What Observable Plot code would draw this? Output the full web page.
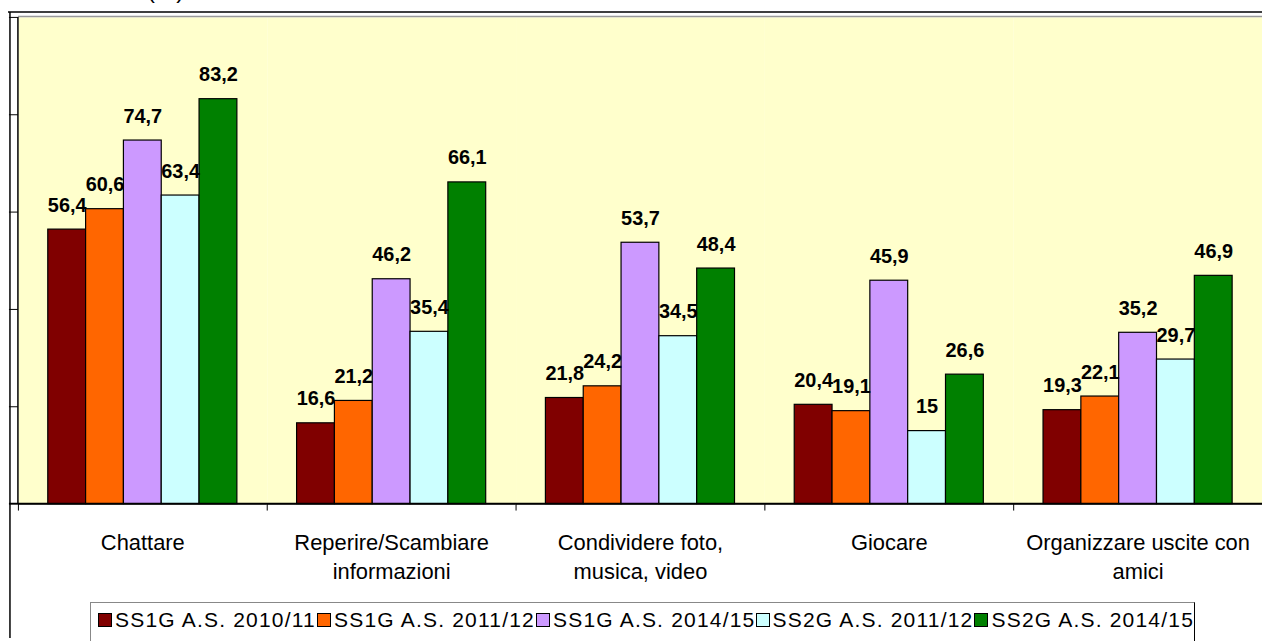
<!DOCTYPE html>
<html>
<head>
<meta charset="utf-8">
<script src="https://cdn.jsdelivr.net/npm/d3@7"></script>
<script src="https://cdn.jsdelivr.net/npm/@observablehq/plot@0.6"></script>
<style>
  html, body { margin: 0; padding: 0; background: #fff; overflow: hidden; width: 1262px; height: 641px; }
  body { position: relative; font-family: "Liberation Sans", Arial, sans-serif; }
  #chart { position: absolute; left: 0; top: 0; }
  #title { position: absolute; left: 147px; top: -22px; font-size: 24px; line-height: 24px; color: #000; white-space: nowrap; }
  #legend { position: absolute; left: 90px; top: 602px; width: 1105px; height: 60px; box-sizing: border-box;
            border: 1px solid #888; border-right-color: #000; display: flex; align-items: flex-start; padding-left: 7px; }
  .item { width: 220px; height: 34px; display: flex; align-items: center; font-size: 21px; letter-spacing: 1.2px; color: #000; white-space: nowrap; }
  .swatch { width: 12px; height: 12px; border: 1px solid #000; margin-right: 3px; flex: none; }
</style>
</head>
<body>
<div id="title">(%)</div>
<div id="chart"></div>
<div id="legend"></div>
<script>
const categories = [
  "Chattare",
  "Reperire/Scambiare\ninformazioni",
  "Condividere foto,\nmusica, video",
  "Giocare",
  "Organizzare uscite con\namici"
];
const series = [
  "SS1G A.S. 2010/11",
  "SS1G A.S. 2011/12",
  "SS1G A.S. 2014/15",
  "SS2G A.S. 2011/12",
  "SS2G A.S. 2014/15"
];
const ss1g_2010_11 = [56.4, 16.6, 21.8, 20.4, 19.3];
const ss1g_2011_12 = [60.6, 21.2, 24.2, 19.1, 22.1];
const ss1g_2014_15 = [74.7, 46.2, 53.7, 45.9, 35.2];
const ss2g_2011_12 = [63.4, 35.4, 34.5, 15.0, 29.7];
const ss2g_2014_15 = [83.2, 66.1, 48.4, 26.6, 46.9];
const colors = ["#800000", "#FF6600", "#CC99FF", "#CCFFFF", "#008000"];
const yTicks = [0, 20, 40, 60, 80, 100];

const seriesValues = [ss1g_2010_11, ss1g_2011_12, ss1g_2014_15, ss2g_2011_12, ss2g_2014_15];
const rows = [];
categories.forEach((c, i) => {
  series.forEach((s, j) => rows.push({category: c, series: s, value: seriesValues[j][i]}));
});
const fmt = v => (Number.isInteger(v) ? String(v) : v.toFixed(1).replace(".", ","));

const plot = Plot.plot({
  width: 1268,
  height: 600,
  marginLeft: 17,
  marginRight: 0,
  marginTop: 17,
  marginBottom: 94,
  style: {fontFamily: '"Liberation Sans", Arial, sans-serif', background: "transparent", overflow: "visible"},
  fx: {domain: categories, padding: 0, axis: null, label: null},
  x: {domain: series, paddingInner: 0, paddingOuter: 0.738, axis: null, label: null},
  y: {domain: [0, 100], axis: null, label: null},
  color: {domain: series, range: colors},
  marks: [
    Plot.frame({fill: "#FFFFCC", stroke: null}),
    Plot.barY(rows, {fx: "category", x: "series", y: "value", fill: "series", stroke: "#000", strokeWidth: 1.2}),
    Plot.text(rows, {fx: "category", x: "series", y: "value", text: d => fmt(d.value), dy: -18,
      lineAnchor: "bottom", fontWeight: "bold", fontSize: 20, fill: "#000"}),
    Plot.text(categories, {fx: d => d, text: d => d, frameAnchor: "bottom", lineAnchor: "top",
      dy: 26, fontSize: 22, lineHeight: 1.32, fill: "#000"}),
    Plot.axisY({ticks: yTicks, tickSize: 9, tickFormat: () => "", stroke: "#000", anchor: "left"}),
    Plot.ruleY([0], {stroke: "#000", strokeWidth: 1.5})
  ]
});
document.getElementById("chart").appendChild(plot);

// decorations built from the plot's own scales
const yS = plot.scale("y");
const fxS = plot.scale("fx");
const bandStart = c => (fxS.apply ? fxS.apply(c) : null);
const bs = d3.scaleBand().domain(categories).range([17, 1268]).padding(0);
const pos = c => { const v = bandStart(c); return (v == null || isNaN(v)) ? bs(c) : v; };
const y0 = yS.apply(0), y1 = yS.apply(100);
const left = pos(categories[0]);
const svg = d3.select(plot);
const g = svg.append("g");
// chart area outer border
g.append("line").attr("x1", 8).attr("x2", 1268).attr("y1", 12).attr("y2", 12).attr("stroke", "#000").attr("stroke-width", 1.5);
g.append("line").attr("x1", 10).attr("x2", 10).attr("y1", 12).attr("y2", 641).attr("stroke", "#000").attr("stroke-width", 1.5);
// plot area border (top) and value axis line
g.append("line").attr("x1", left).attr("x2", 1268).attr("y1", y1 - 0.5).attr("y2", y1 - 0.5).attr("stroke", "#999").attr("stroke-width", 1.5);
g.append("line").attr("x1", left).attr("x2", left).attr("y1", y1).attr("y2", y0).attr("stroke", "#000").attr("stroke-width", 1.5);
// baseline extended
g.append("line").attr("x1", left - 9).attr("x2", 1268).attr("y1", y0).attr("y2", y0).attr("stroke", "#000").attr("stroke-width", 1.5);
// category boundary ticks
categories.forEach(c => {
  const x = Math.round(pos(c)) + 0.5;
  g.append("line").attr("x1", x).attr("x2", x).attr("y1", y0).attr("y2", y0 + 7).attr("stroke", "#000");
});

// legend
const legend = d3.select("#legend");
series.forEach((s, i) => {
  const it = legend.append("div").attr("class", "item");
  it.append("div").attr("class", "swatch").style("background", colors[i]);
  it.append("span").text(s);
});
</script>
</body>
</html>
